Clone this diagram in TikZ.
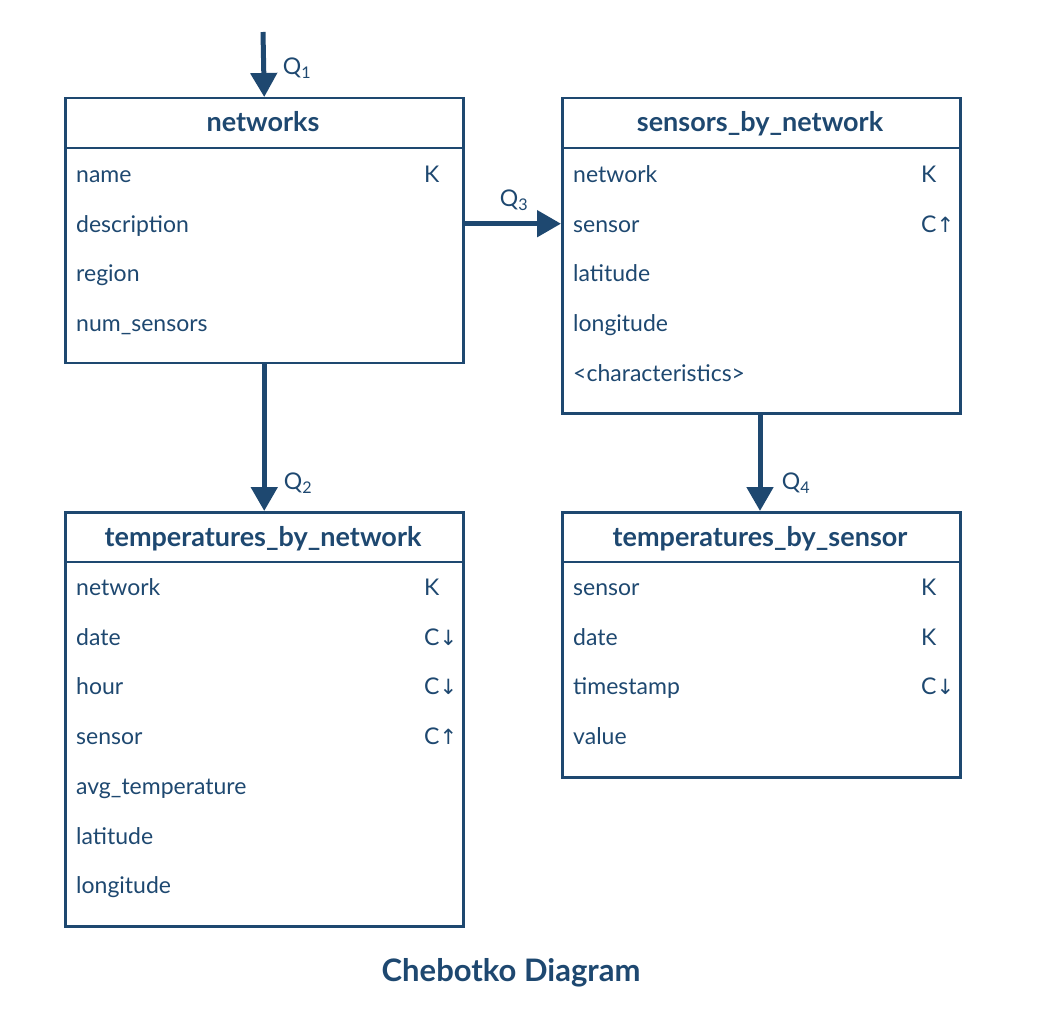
\documentclass[tikz,border=0pt]{standalone}
\usepackage{fontspec}
\setmainfont{Lato}
\newfontfamily\arrowfont{DejaVu Sans}
\usetikzlibrary{arrows.meta}
\definecolor{navy}{HTML}{1E4870}

\tikzset{
  tbl/.style={draw=navy, line width=2.5pt, minimum width=398pt, anchor=north west, inner sep=0pt},
  rule/.style={draw=navy, line width=2.5pt},
  tname/.style={text=navy, font=\bfseries\fontsize{27}{32}\selectfont, inner sep=0pt, text height=21pt, text depth=5pt},
  fld/.style={text=navy, font=\fontsize{23}{27}\selectfont, anchor=west, inner sep=0pt, text height=21pt, text depth=4pt},
  link/.style={draw=navy, line width=5pt, -{Triangle[width=26pt,length=24pt]}},
  qlbl/.style={text=navy, font=\fontsize{23}{27}\selectfont, inner sep=0pt}
}
\newcommand{\dn}{{\arrowfont\fontsize{21}{24}\selectfont ↓}}
\newcommand{\up}{{\arrowfont\fontsize{21}{24}\selectfont ↑}}

\begin{document}
\begin{tikzpicture}[line join=miter,x=1pt,y=-1pt]
  \useasboundingbox (0,0) rectangle (1050,1024);

  % tables
  \node[tbl, minimum height=265pt] (nw)  at (64,97)  {};
  \node[tbl, minimum height=315pt] (sbn) at (561,97) {};
  \node[tbl, minimum height=414pt] (tbn) at (64,511) {};
  \node[tbl, minimum height=265pt] (tbs) at (561,511) {};

  \foreach \t in {nw,sbn,tbn,tbs}
    \draw[rule] ([yshift=-51pt]\t.north west) -- ([yshift=-51pt]\t.north east);

  \node[tname] (nw-t)  at (263,124) {networks};
  \node[tname] (sbn-t) at (760,124) {sensors\_by\_network};
  \node[tname] (tbn-t) at (263,538) {temperatures\_by\_network};
  \node[tname] (tbs-t) at (760,538) {temperatures\_by\_sensor};

  % columns
  \foreach \c [count=\i] in {name,description,region,num\_sensors}
    \node[fld] (nw-\i) at (76,{174+49.7*(\i-1)}) {\c};
  \foreach \c [count=\i] in {network,sensor,latitude,longitude,<characteristics>}
    \node[fld] (sbn-\i) at (573,{174+49.7*(\i-1)}) {\c};
  \foreach \c [count=\i] in {network,date,hour,sensor,avg\_temperature,latitude,longitude}
    \node[fld] (tbn-\i) at (76,{587+49.7*(\i-1)}) {\c};
  \foreach \c [count=\i] in {sensor,date,timestamp,value}
    \node[fld] (tbs-\i) at (573,{587+49.7*(\i-1)}) {\c};

  % keys
  \node[fld] (nw-k1)  at (424,174) {K};
  \node[fld] (sbn-k1) at (921,174) {K};
  \node[fld] (sbn-k2) at (921,223.7) {C\up};
  \node[fld] (tbn-k1) at (424,587) {K};
  \node[fld] (tbn-k2) at (424,636.7) {C\dn};
  \node[fld] (tbn-k3) at (424,686.4) {C\dn};
  \node[fld] (tbn-k4) at (424,736.1) {C\up};
  \node[fld] (tbs-k1) at (921,587) {K};
  \node[fld] (tbs-k2) at (921,636.7) {K};
  \node[fld] (tbs-k3) at (921,686.4) {C\dn};

  % access paths
  \coordinate (q1) at (263,32);
  \draw[link] (q1) -- (nw.north);
  \draw[link] (nw.south) -- (tbn.north);
  \draw[link] (nw.east |- sbn-2) -- (sbn.west |- sbn-2);
  \draw[link] (sbn.south -| 760,0) -- (tbs.north -| 760,0);

  \node[qlbl] (q1-l) at (297,68)  {Q\textsubscript{1}};
  \node[qlbl] (q2-l) at (298,483) {Q\textsubscript{2}};
  \node[qlbl] (q3-l) at (514,200) {Q\textsubscript{3}};
  \node[qlbl] (q4-l) at (796,483) {Q\textsubscript{4}};

  \node[text=navy, font=\bfseries\fontsize{31}{36}\selectfont] (cap) at (511,973) {Chebotko Diagram};
\end{tikzpicture}
\end{document}
